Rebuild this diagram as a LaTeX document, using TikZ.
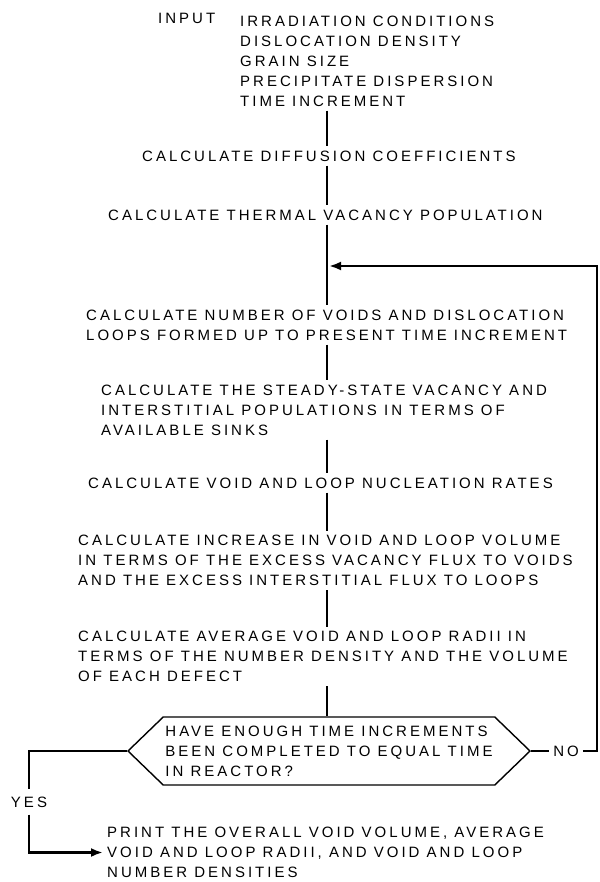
\documentclass[tikz,border=0pt]{standalone}
\usepackage{fontspec}
\setmainfont{Liberation Sans}[LetterSpace=20]
\usetikzlibrary{arrows.meta,positioning,shapes.symbols}
\tikzset{
  stepnote/.style={align=left,inner sep=4pt,anchor=west,
    font=\fontsize{15}{20}\selectfont},
  flowbar/.style={line width=2.8pt},
  loopline/.style={line width=2.6pt},
  testbox/.style={draw,line width=1.4pt,signal,signal to=east and west,
    signal pointer angle=88,minimum width=402pt,minimum height=68pt,
    align=left,inner sep=2pt,font=\fontsize{15}{20}\selectfont}
}
\begin{document}
\begin{tikzpicture}[x=1pt,y=-1pt]
\useasboundingbox (0,0) rectangle (599,882);
\coordinate (spine) at (327,0);
\node[stepnote] (input) at (154,18) {INPUT};
\node[stepnote] (inlist) at (236,61) {IRRADIATION CONDITIONS\\DISLOCATION DENSITY\\
GRAIN SIZE\\PRECIPITATE DISPERSION\\TIME INCREMENT};
\node[stepnote] (diffco) at (138,156) {CALCULATE DIFFUSION COEFFICIENTS};
\node[stepnote] (thermvac) at (104,215) {CALCULATE THERMAL VACANCY POPULATION};
\node[stepnote] (voidcount) at (82,325) {CALCULATE NUMBER OF VOIDS AND DISLOCATION\\
LOOPS FORMED UP TO PRESENT TIME INCREMENT};
\node[stepnote] (steady) at (97,410) {CALCULATE THE STEADY-STATE VACANCY AND\\
INTERSTITIAL POPULATIONS IN TERMS OF\\AVAILABLE SINKS};
\node[stepnote] (nucrate) at (84,483) {CALCULATE VOID AND LOOP NUCLEATION RATES};
\node[stepnote] (growth) at (74,560.5) {CALCULATE INCREASE IN VOID AND LOOP VOLUME\\
IN TERMS OF THE EXCESS VACANCY FLUX TO VOIDS\\AND THE EXCESS INTERSTITIAL FLUX TO LOOPS};
\node[stepnote] (radii) at (74,656.5) {CALCULATE AVERAGE VOID AND LOOP RADII IN\\
TERMS OF THE NUMBER DENSITY AND THE VOLUME\\OF EACH DEFECT};
\node[testbox] (test) at (329,751) {HAVE ENOUGH TIME INCREMENTS\\
BEEN COMPLETED TO EQUAL TIME\\IN REACTOR?};
\node[stepnote,anchor=center,inner ysep=7pt] (yes) at (29,802) {YES};
\node[stepnote,anchor=center] (no) at (566,751) {NO};
\node[stepnote] (output) at (103,852.5) {PRINT THE OVERALL VOID VOLUME, AVERAGE\\
VOID AND LOOP RADII, AND VOID AND LOOP\\NUMBER DENSITIES};
\coordinate (rejoin) at (327,266);
% main line
\draw[flowbar] (inlist.south -| spine) -- (diffco.north -| spine);
\draw[flowbar] (diffco.south -| spine) -- (thermvac.north -| spine);
\draw[flowbar] (thermvac.south -| spine) -- (voidcount.north -| spine);
\draw[flowbar] (voidcount.south -| spine) -- (steady.north -| spine);
\draw[flowbar] (steady.south -| spine) -- (nucrate.north -| spine);
\draw[flowbar] (nucrate.south -| spine) -- (growth.north -| spine);
\draw[flowbar] (growth.south -| spine) -- (radii.north -| spine);
\draw[flowbar] (radii.south -| spine) -- (test.north -| spine);
% decision
\draw[line width=1.4pt] (test.east) -- (no.west);
\draw[loopline,-{Latex[length=12pt,width=9pt]}] (no.east) -- ++(14,0)
  |- ([xshift=2pt]rejoin);
\draw[loopline] (test.west) -| (yes.north);
\draw[loopline,-{Latex[length=12pt,width=9pt]}] (yes.south) |- (output.west);
\end{tikzpicture}
\end{document}
